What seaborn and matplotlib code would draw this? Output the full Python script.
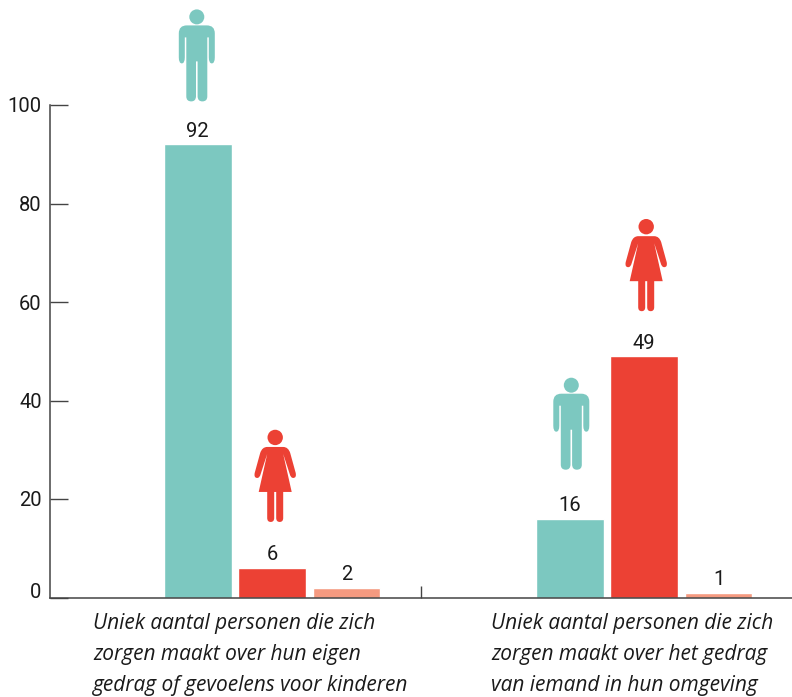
import matplotlib
matplotlib.use('Agg')
import matplotlib.pyplot as plt
import pandas as pd
import seaborn as sns
from matplotlib.patches import PathPatch, Circle
from matplotlib.path import Path
from matplotlib.transforms import Affine2D, ScaledTranslation

# ── data ──────────────────────────────────────────────
groups = ['eigen', 'omgeving']
kinds = ['man', 'vrouw', 'overig']
man = [92, 16]
vrouw = [6, 49]
overig = [2, 1]
y_ticks = [0, 20, 40, 60, 80, 100]
captions = [
    'Uniek aantal personen die zich\nzorgen maakt over hun eigen\ngedrag of gevoelens voor kinderen',
    'Uniek aantal personen die zich\nzorgen maakt over het gedrag\nvan iemand in hun omgeving',
]
colors = ['#7CC8C0', '#EC4134', '#F59A80']
TEXT = '#1a1a1a'
AXIS = '#444444'

df = pd.DataFrame({
    'group': groups * 3,
    'kind': [k for k in kinds for _ in groups],
    'value': man + vrouw + overig,
})

# ── figure ────────────────────────────────────────────
W, H = 792, 697
sns.set_style('white')
plt.rcParams['font.family'] = ['Roboto', 'DejaVu Sans']

fig = plt.figure(figsize=(W / 100, H / 100), dpi=100)
ax = fig.add_axes([50 / W, (H - 597.5) / H, (W - 50) / W, 492.5 / H])

sns.barplot(data=df, x='group', y='value', hue='kind', hue_order=kinds,
            palette=colors, width=0.6, gap=0.09, saturation=1,
            legend=False, ax=ax)

ax.set_ylim(0, 100)
ax.set_xlim((50 - 272.2) / 372, (W - 272.2) / 372)
ax.set_xlabel('')
ax.set_ylabel('')
ax.set_yticks(y_ticks)
ax.set_xticks([(421 - 272.2) / 372])
ax.set_xticklabels([''])
ax.tick_params(axis='y', direction='in', length=13, width=1, color=AXIS,
               pad=6, labelsize=14.5, labelcolor=TEXT, left=True)
ax.tick_params(axis='x', direction='in', length=9, width=1, color=AXIS, bottom=True)
ax.get_yticklabels()[0].set_va('baseline')

for side in ['top', 'right']:
    ax.spines[side].set_visible(False)
for side in ['left', 'bottom']:
    ax.spines[side].set_color(AXIS)
    ax.spines[side].set_linewidth(1.1)

for container in ax.containers:
    ax.bar_label(container, fmt='%g', padding=2.5, fontsize=14.5, color=TEXT)

# ── pictograms, drawn in pixels from the icon's foot ──
M, L, C = Path.MOVETO, Path.LINETO, Path.CURVE3
man_shape = [
    ((-18, 44), M), ((-18, 68), L), ((-18, 76), C), ((-10, 76), C), ((10, 76), L),
    ((18, 76), C), ((18, 68), C), ((18, 44), L), ((18, 38), C), ((15, 38), C),
    ((12, 38), C), ((12, 44), C), ((12, 64), L), ((10.5, 64), L), ((10.5, 5), L),
    ((10.5, 0), C), ((5.5, 0), C), ((1, 0), C), ((0.8, 5), C), ((0.8, 40), L),
    ((-0.8, 40), L), ((-0.8, 5), L), ((-1, 0), C), ((-5.5, 0), C), ((-10.5, 0), C),
    ((-10.5, 5), C), ((-10.5, 64), L), ((-12, 64), L), ((-12, 44), L), ((-12, 38), C),
    ((-15, 38), C), ((-18, 38), C), ((-18, 44), C), ((-18, 44), L),
]
woman_shape = [
    ((-8, 75), M), ((8, 75), L), ((13, 75), C), ((15, 69), C), ((20.5, 49), L),
    ((21.5, 44), C), ((18, 44), C), ((15.5, 44), C), ((14.5, 48), C), ((8, 68), L),
    ((16.5, 30), L), ((8, 30), L), ((8, 4), L), ((8, 0), C), ((4.5, 0), C),
    ((1, 0), C), ((1, 4), C), ((1, 30), L), ((-1, 30), L), ((-1, 4), L),
    ((-1, 0), C), ((-4.5, 0), C), ((-8, 0), C), ((-8, 4), C), ((-8, 30), L),
    ((-16.5, 30), L), ((-8, 68), L), ((-14.5, 48), L), ((-15.5, 44), C), ((-18, 44), C),
    ((-21.5, 44), C), ((-20.5, 49), C), ((-15, 69), L), ((-13, 75), C), ((-8, 75), C),
]


def draw_icon(shape, head_r, x, value, color, dx, dy):
    # anchor at bar top, lifted by dy, everything else in screen pixels
    at = Affine2D().translate(dx, dy) + ScaledTranslation(x, value, ax.transData)
    verts = [p for p, _ in shape]
    codes = [c for _, c in shape]
    ax.add_patch(PathPatch(Path(verts, codes), facecolor=color, edgecolor='none',
                           transform=at, clip_on=False))
    ax.add_patch(Circle((0, 84.5), head_r, facecolor=color, edgecolor='none',
                        transform=at, clip_on=False))


draw_icon(man_shape, 7.5, -0.2, man[0], colors[0], -1, 43)
draw_icon(man_shape, 7.5, 0.8, man[1], colors[0], 1.5, 49)
draw_icon(woman_shape, 7.7, 0, vrouw[0], colors[1], 3, 46)
draw_icon(woman_shape, 7.7, 1, vrouw[1], colors[1], 2, 45)

# ── captions ──────────────────────────────────────────
for text, left in zip(captions, [93, 491]):
    fig.text(left / W, 1 - 613.5 / H, text, ha='left', va='top', style='italic',
             family=['Open Sans', 'DejaVu Sans'],
             fontsize=15, color=TEXT, linespacing=1.62)

fig.savefig('out.png', dpi=100)
